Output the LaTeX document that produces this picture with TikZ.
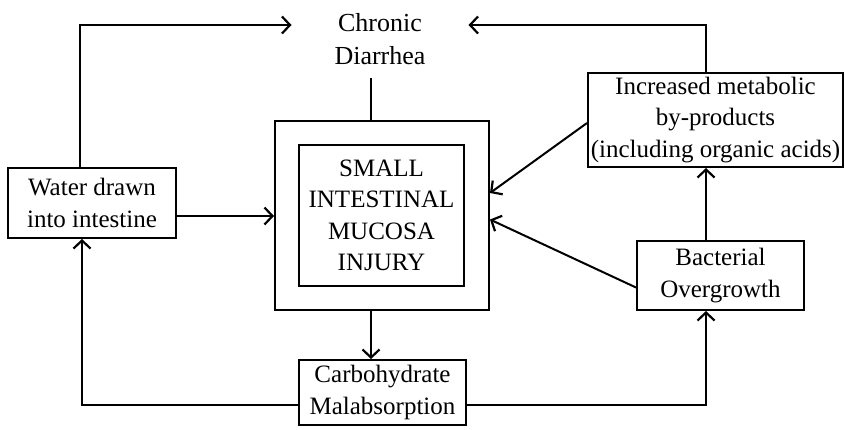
\documentclass[tikz,border=0pt]{standalone}
\usepackage{fontspec}
\setmainfont{Liberation Serif}
\usetikzlibrary{arrows.meta,calc}
\begin{document}
\begin{tikzpicture}[x=1pt,y=-1pt,
  line width=2pt,
  arr/.style={-{Straight Barb[length=8pt,width=17pt,line width=2.2pt]}},
  boxnode/.style={draw,inner sep=0pt,align=center,font=\fontsize{25}{31.5}\selectfont},
  plain/.style={inner sep=0pt,align=center,font=\fontsize{26}{33}\selectfont}]
\path[use as bounding box] (0,0) rectangle (845,429);

\node[plain,minimum width=175pt,minimum height=76pt] (cd) at (380,39) {Chronic\\Diarrhea};
\node[draw,inner sep=0pt,minimum width=214pt,minimum height=189pt] (outer) at (382,215.5) {};
\node[boxnode,minimum width=165pt,minimum height=141pt] (inner) at (381.5,215.5) {SMALL\\INTESTINAL\\MUCOSA\\INJURY};
\node[boxnode,minimum width=168pt,minimum height=70pt] (water) at (92,203) {Water drawn\\into intestine};
\node[boxnode,minimum width=167pt,minimum height=65pt] (carb) at (382.5,392.5) {Carbohydrate\\Malabsorption};
\node[boxnode,minimum width=167pt,minimum height=69pt] (bact) at (720.5,275.5) {Bacterial\\Overgrowth};
\node[boxnode,minimum width=255pt,minimum height=94pt] (meta) at (715.5,120) {Increased metabolic\\by-products\\(including organic acids)};

\coordinate (ctl) at (80,25);
\coordinate (ctr) at (706,25);
\coordinate (cbl) at (82,405);
\coordinate (cbr) at (706,405);
\coordinate (vx) at (371,0);

\draw[arr] (water.north -| ctl) -- (ctl) -- (cd.west |- ctl);
\draw[arr] (meta.north -| ctr) -- (ctr) -- (cd.east |- ctr);
\draw (cd.south -| vx) -- (outer.north -| vx);
\draw[arr] ([yshift=-13pt]water.east) -- ([yshift=-13pt]water.east -| outer.west);
\draw[arr] (outer.south -| vx) -- (carb.north -| vx);
\draw[arr] (carb.west |- cbl) -- (cbl) -- (water.south -| cbl);
\draw[arr] (carb.east |- cbr) -- (cbr) -- (bact.south -| cbr);
\draw[arr] (bact.north -| ctr) -- (meta.south -| ctr);
\draw[arr] ([yshift=-3pt]meta.west) -- ([yshift=22.5pt]outer.east);
\draw[arr] ([yshift=-12pt]bact.west) -- ([yshift=-4pt]outer.east);
\end{tikzpicture}
\end{document}
